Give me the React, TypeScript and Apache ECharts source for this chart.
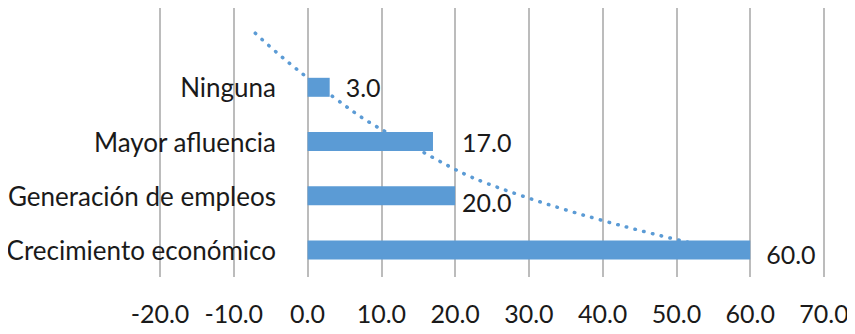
import React, { useEffect, useRef } from "react";
import * as echarts from "echarts";

const categories = ["Crecimiento económico", "Generación de empleos", "Mayor afluencia", "Ninguna", ""];
const values = [60, 20, 17, 3];
// logarithmic trendline (one period forward)
const trendValues = [56.3, 29.0, 13.0, 1.7, -7.1];
const labelOffsets = [[16, 4], [7, 6], [29, 0], [16, 0]];

export default function App() {
  const ref = useRef<HTMLDivElement>(null);
  useEffect(() => {
    const chart = echarts.init(ref.current!, undefined, { renderer: "svg" });
    const font = "Lato, 'Open Sans', sans-serif";
    chart.setOption({
      animation: false,
      grid: { left: 160, right: 31, top: 6, bottom: 57, containLabel: false, outerBoundsMode: "none" },
      xAxis: {
        type: "value",
        min: -20,
        max: 70,
        interval: 10,
        axisLine: { show: false },
        axisTick: { show: false },
        splitLine: { show: true, lineStyle: { color: "#A6A6A6", width: 1.5 } },
        axisLabel: {
          color: "#1a1a1a",
          fontSize: 25,
          fontFamily: font,
          margin: 23,
          formatter: (v: number) => v.toFixed(1),
        },
      },
      yAxis: {
        type: "category",
        data: categories,
        axisLine: { show: false },
        axisTick: { show: false },
        axisLabel: { color: "#1a1a1a", fontSize: 26, fontFamily: font, margin: -116 },
      },
      series: [
        {
          type: "line",
          data: trendValues.map((v, i) => [v, categories[i]]),
          smooth: true,
          symbol: "none",
          z: 1,
          lineStyle: { color: "#5B9BD5", width: 3.5, type: [0.5, 8.5], cap: "round" },
        },
        {
          type: "bar",
          data: values.map((v, i) => ({
            value: v,
            label: { offset: labelOffsets[i] },
          })),
          barWidth: 19,
          z: 3,
          itemStyle: { color: "#5B9BD5" },
          label: {
            show: true,
            position: "right",
            distance: 0,
            color: "#1a1a1a",
            fontSize: 25,
            fontFamily: font,
            formatter: (p: any) => Number(p.value).toFixed(1),
          },
        },
      ],
    });
    return () => chart.dispose();
  }, []);
  return <div ref={ref} style={{ width: 855, height: 334, margin: -8 }} />;
}
